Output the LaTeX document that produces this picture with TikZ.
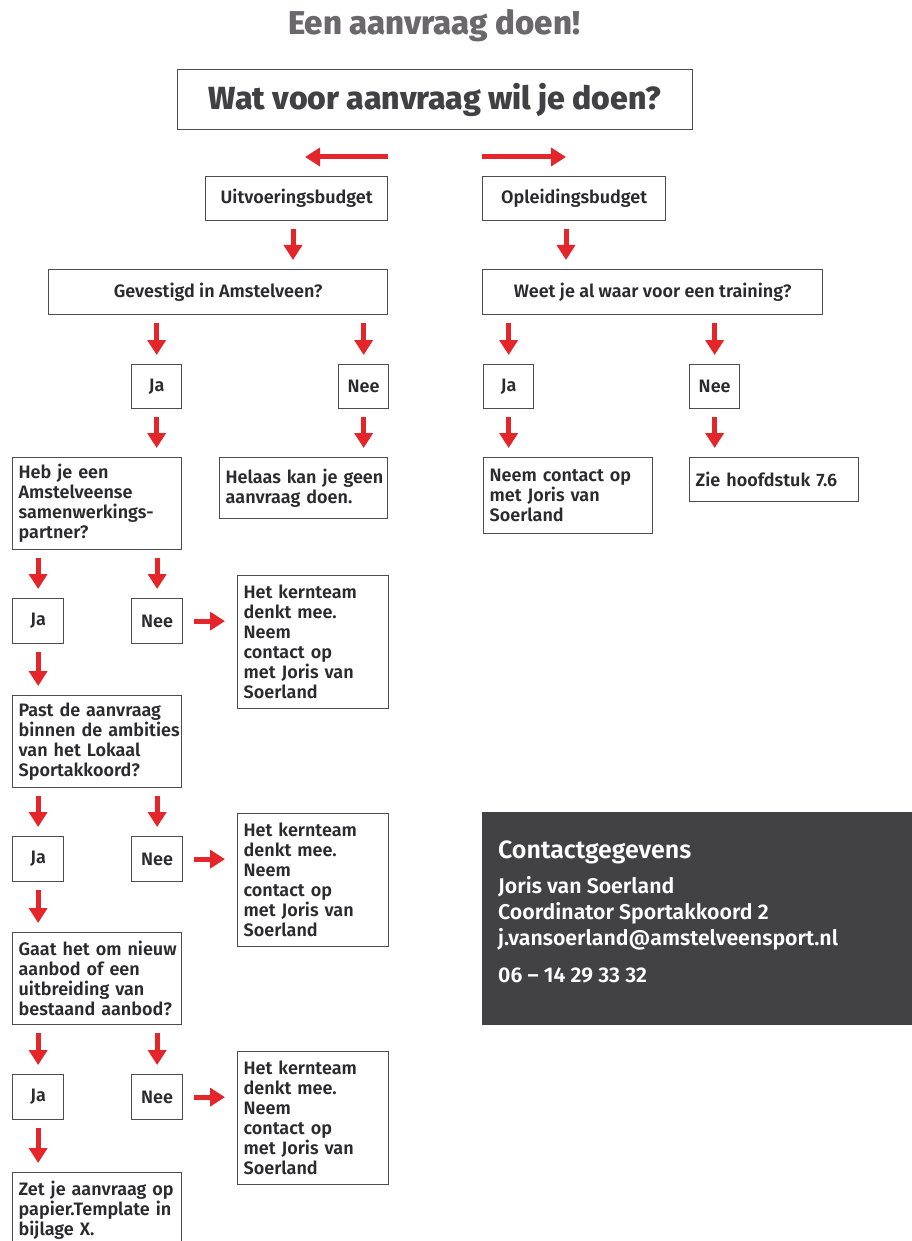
\documentclass[tikz,border=0pt]{standalone}
\usepackage{fontspec}
\setmainfont{Fira Sans}[UprightFont={* SemiBold}, BoldFont={* ExtraBold}]
\usetikzlibrary{arrows.meta}
\definecolor{arrred}{HTML}{E42529}
\definecolor{boxline}{HTML}{4D4D4F}
\definecolor{txt}{HTML}{2B2B2D}
\definecolor{titlegray}{HTML}{6A686A}
\definecolor{darktitle}{HTML}{414143}
\definecolor{panel}{HTML}{424244}
\newcommand\ml[1]{\mbox{#1}}
\tikzset{
  box/.style={draw=boxline, line width=1.3pt, anchor=north west, inner xsep=6pt, inner ysep=0pt, text=txt,
    font=\fontsize{18}{20}\selectfont},
  lbox/.style={box, align=left},
  cbox/.style={box, align=center},
  arr/.style={draw=arrred, line width=5pt, -{Triangle[width=18pt,length=15pt]}},
  darr/.style={arr, shorten <=8pt, shorten >=9pt},
  rarr/.style={arr, shorten <=11pt, shorten >=12pt},
  ctext/.style={anchor=base west, text=white, inner sep=0pt, font=\fontsize{21.3}{24}\selectfont},
}
\begin{document}
\hbadness=10000 \hfuzz=100pt
\begin{tikzpicture}[x=1pt,y=-1pt]
\useasboundingbox (0,0) rectangle (912,1241);
\clip (0,0) rectangle (912,1241);
% title
\node[anchor=base, text=titlegray, font=\fontsize{33}{36}\selectfont\bfseries] (title) at (434,35) {Een aanvraag doen!};
\node[box, minimum width=515pt, minimum height=60pt, text=darktitle, font=\fontsize{32}{36}\selectfont\bfseries] (top) at (177,69) {Wat voor aanvraag wil je doen?};
\coordinate (la) at (388,157);
\coordinate (lb) at (305,157);
\coordinate (ra) at (482,157);
\coordinate (rb) at (566,157);
\draw[arr] (la) -- (lb);
\draw[arr] (ra) -- (rb);
% level 1
\node[cbox, minimum width=182pt, minimum height=44pt] (uit) at (205,176) {Uitvoeringsbudget};
\node[cbox, minimum width=183pt, minimum height=44pt] (opl) at (482,176) {Opleidingsbudget};
\node[cbox, minimum width=339pt, minimum height=45pt] (gev) at (48,269) {Gevestigd in Amstelveen?};
\node[cbox, minimum width=340pt, minimum height=45pt] (weet) at (482,269) {Weet je al waar voor een training?};
\draw[darr] (uit.south -| 293,0) -- (gev.north -| 293,0);
\draw[darr] (opl.south -| 566,0) -- (weet.north -| 566,0);
% Ja / Nee level
\node[cbox, minimum width=50pt, minimum height=44pt] (ja1) at (131,364) {Ja};
\node[cbox, minimum width=50pt, minimum height=44pt] (nee1) at (338,364) {Nee};
\node[cbox, minimum width=50pt, minimum height=44pt] (ja2) at (483,364) {Ja};
\node[cbox, minimum width=50pt, minimum height=44pt] (nee2) at (689,364) {Nee};
\draw[darr] (ja1.north |- gev.south) -- (ja1.north);
\draw[darr] (nee1.north |- gev.south) -- (nee1.north);
\draw[darr] (ja2.north |- weet.south) -- (ja2.north);
\draw[darr] (nee2.north |- weet.south) -- (nee2.north);
% results
\node[lbox, minimum width=169pt, text width=157pt, minimum height=92pt] (heb) at (12,457) {\ml{Heb je een}\\\ml{Amstelveense}\\\ml{samenwerkings-}\\\ml{partner?}};
\node[lbox, minimum width=168pt, text width=156pt, minimum height=61pt] (helaas) at (219,457) {\ml{Helaas kan je geen}\\\ml{aanvraag doen.}};
\node[lbox, minimum width=169pt, text width=157pt, minimum height=76pt] (neemc) at (483,457) {\ml{Neem contact op}\\\ml{met Joris van}\\\ml{Soerland}};
\node[lbox, minimum width=169pt, text width=157pt, minimum height=44pt] (zie) at (689,457) {\ml{Zie hoofdstuk 7.6}};
\draw[darr] (ja1.south) -- (ja1.south |- heb.north);
\draw[darr] (nee1.south) -- (nee1.south |- helaas.north);
\draw[darr] (ja2.south) -- (ja2.south |- neemc.north);
\draw[darr] (nee2.south) -- (nee2.south |- zie.north);
% group 1
\node[cbox, minimum width=51pt, minimum height=45pt] (ja3) at (12,598) {Ja};
\node[cbox, minimum width=51pt, minimum height=45pt] (nee3) at (131,598) {Nee};
\node[lbox, minimum width=151pt, text width=139pt, minimum height=133pt] (kern1) at (237,575) {\ml{Het kernteam}\\\ml{denkt mee.}\\\ml{Neem}\\\ml{contact op}\\\ml{met Joris van}\\\ml{Soerland}};
\draw[darr] (ja3.north |- heb.south) -- (ja3.north);
\draw[darr] (nee3.north |- heb.south) -- (nee3.north);
\draw[rarr] (nee3.east) -- (nee3.east -| kern1.west);
\node[lbox, minimum width=169pt, text width=157pt, minimum height=92pt] (past) at (12,695) {\ml{Past de aanvraag}\\\ml{binnen de ambities}\\\ml{van het Lokaal}\\\ml{Sportakkoord?}};
\draw[darr] (ja3.south) -- (ja3.south |- past.north);
% group 2
\node[cbox, minimum width=51pt, minimum height=45pt] (ja4) at (12,836) {Ja};
\node[cbox, minimum width=51pt, minimum height=45pt] (nee4) at (131,836) {Nee};
\node[lbox, minimum width=151pt, text width=139pt, minimum height=133pt] (kern2) at (237,813) {\ml{Het kernteam}\\\ml{denkt mee.}\\\ml{Neem}\\\ml{contact op}\\\ml{met Joris van}\\\ml{Soerland}};
\draw[darr] (ja4.north |- past.south) -- (ja4.north);
\draw[darr] (nee4.north |- past.south) -- (nee4.north);
\draw[rarr] (nee4.east) -- (nee4.east -| kern2.west);
\node[lbox, minimum width=169pt, text width=157pt, minimum height=92pt] (gaat) at (12,932) {\ml{Gaat het om nieuw}\\\ml{aanbod of een}\\\ml{uitbreiding van}\\\ml{bestaand aanbod?}};
\draw[darr] (ja4.south) -- (ja4.south |- gaat.north);
% group 3
\node[cbox, minimum width=51pt, minimum height=45pt] (ja5) at (12,1074) {Ja};
\node[cbox, minimum width=51pt, minimum height=45pt] (nee5) at (131,1074) {Nee};
\node[lbox, minimum width=151pt, text width=139pt, minimum height=133pt] (kern3) at (237,1051) {\ml{Het kernteam}\\\ml{denkt mee.}\\\ml{Neem}\\\ml{contact op}\\\ml{met Joris van}\\\ml{Soerland}};
\draw[darr] (ja5.north |- gaat.south) -- (ja5.north);
\draw[darr] (nee5.north |- gaat.south) -- (nee5.north);
\draw[rarr] (nee5.east) -- (nee5.east -| kern3.west);
\node[lbox, minimum width=169pt, text width=157pt, minimum height=76pt] (zet) at (12,1172) {\ml{Zet je aanvraag op}\\\ml{papier.Template in}\\\ml{bijlage X.}};
\draw[darr] (ja5.south) -- (ja5.south |- zet.north);
% contact panel
\node[anchor=north west, fill=panel, minimum width=430pt, minimum height=213pt, inner sep=0pt] (panel) at (482,812) {};
\node[ctext, font=\fontsize{25}{28}\selectfont] (ctitle) at (498,858) {Contactgegevens};
\node[ctext] (c1) at (498,893) {Joris van Soerland};
\node[ctext] (c2) at (498,919) {Coordinator Sportakkoord 2};
\node[ctext] (c3) at (498,945) {j.vansoerland@amstelveensport.nl};
\node[ctext] (c4) at (498,982) {06 – 14 29 33 32};
\end{tikzpicture}
\end{document}
